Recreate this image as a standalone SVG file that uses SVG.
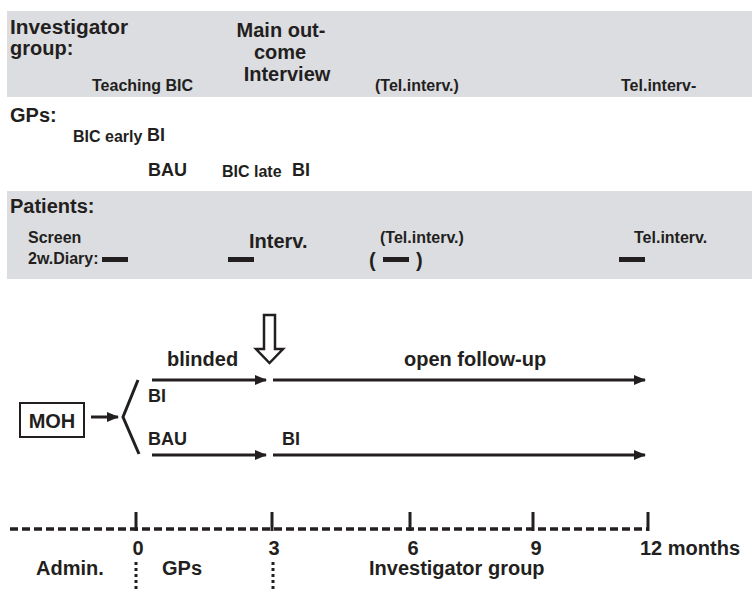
<svg xmlns="http://www.w3.org/2000/svg" width="752" height="592" viewBox="0 0 752 592">
<defs>
<style>
text{font-family:"Liberation Sans",Arial,sans-serif;font-weight:bold;fill:#231f20}
.h{font-size:20px}
.l{font-size:18px}
.s{font-size:16px}
.band{fill:#dcdde0}
.ln{stroke:#231f20;stroke-width:3;fill:none}
.bar{fill:#231f20}
.tick{stroke:#231f20;stroke-width:3}
.dot{stroke:#231f20;stroke-width:3;stroke-dasharray:3 3}
</style>
<marker id="ah" markerWidth="12" markerHeight="10" refX="11" refY="5" orient="auto" markerUnits="userSpaceOnUse">
<path d="M0,0 L12,5 L0,10 z" fill="#231f20"/>
</marker>
</defs>
<rect x="0" y="0" width="752" height="592" fill="#fff"/>

<g id="investigator-band">
<rect class="band" x="7" y="11" width="745" height="86"/>
<text class="h" x="10" y="34" textLength="118" lengthAdjust="spacingAndGlyphs">Investigator</text>
<text class="h" x="10" y="55">group:</text>
<text class="h" x="281" y="37" text-anchor="middle">Main out-</text>
<text class="h" x="280" y="59" text-anchor="middle">come</text>
<text class="h" x="287" y="81" text-anchor="middle">Interview</text>
<text class="s" x="92" y="91">Teaching BIC</text>
<text class="s" x="375" y="91">(Tel.interv.)</text>
<text class="s" x="621" y="91">Tel.interv-</text>
</g>

<g id="gps-section">
<text class="h" x="10" y="122">GPs:</text>
<text class="s" x="73" y="142">BIC early</text>
<text class="l" x="147" y="141">BI</text>
<text class="l" x="148" y="176">BAU</text>
<text class="s" x="222" y="177">BIC late</text>
<text class="l" x="292" y="176">BI</text>
</g>

<g id="patients-band">
<rect class="band" x="7" y="191" width="745" height="88"/>
<text class="h" x="10" y="213">Patients:</text>
<text class="s" x="28" y="243">Screen</text>
<text class="s" x="28" y="264">2w.Diary:</text>
<rect class="bar" x="102" y="257" width="26" height="5"/>
<text class="h" x="249" y="248">Interv.</text>
<rect class="bar" x="228" y="257" width="26" height="5"/>
<text class="s" x="380" y="243">(Tel.interv.)</text>
<text class="h" x="369" y="267">(</text>
<rect class="bar" x="383" y="257" width="26" height="5"/>
<text class="h" x="416" y="267">)</text>
<text class="s" x="634" y="243">Tel.interv.</text>
<rect class="bar" x="619" y="257" width="26" height="5"/>
</g>

<g id="main-outcome-arrow">
<polygon points="264,315 275,315 275,349 283,349 269.5,363 256,349 264,349" fill="#fff" stroke="#231f20" stroke-width="2.5"/>
</g>

<g id="labels">
<text class="h" x="167" y="366">blinded</text>
<text class="h" x="404" y="366">open follow-up</text>
<text class="l" x="148" y="402">BI</text>
<text class="l" x="148" y="445">BAU</text>
<text class="l" x="282" y="445">BI</text>
</g>

<g id="moh">
<rect x="20" y="403" width="64" height="34" fill="#fff" stroke="#231f20" stroke-width="2"/>
<text class="h" x="52" y="428" text-anchor="middle">MOH</text>
</g>

<g id="connectors">
<line class="ln" x1="91" y1="417" x2="118" y2="417" marker-end="url(#ah)"/>
<polyline class="ln" points="138,380 123,417 139,454"/>
<line class="ln" x1="152" y1="380" x2="266" y2="380" marker-end="url(#ah)"/>
<line class="ln" x1="273" y1="380" x2="645" y2="380" marker-end="url(#ah)"/>
<line class="ln" x1="152" y1="455" x2="266" y2="455" marker-end="url(#ah)"/>
<line class="ln" x1="273" y1="455" x2="645" y2="455" marker-end="url(#ah)"/>
</g>

<g id="timeline">
<line x1="10" y1="529" x2="648" y2="529" stroke="#231f20" stroke-width="3.5" stroke-dasharray="8 4"/>
<line class="tick" x1="136" y1="512" x2="136" y2="531"/>
<line class="tick" x1="272" y1="512" x2="272" y2="531"/>
<line class="tick" x1="410" y1="512" x2="410" y2="531"/>
<line class="tick" x1="533" y1="512" x2="533" y2="531"/>
<line class="tick" x1="648" y1="512" x2="648" y2="531"/>
<text class="h" x="138" y="555" text-anchor="middle">0</text>
<text class="h" x="274" y="555" text-anchor="middle">3</text>
<text class="h" x="413" y="555" text-anchor="middle">6</text>
<text class="h" x="536" y="555" text-anchor="middle">9</text>
<text class="h" x="640" y="555">12 months</text>
<text class="h" x="36" y="575">Admin.</text>
<text class="h" x="162" y="575">GPs</text>
<text class="h" x="369" y="575">Investigator group</text>
<line class="dot" x1="136" y1="562" x2="136" y2="592"/>
<line class="dot" x1="273" y1="562" x2="273" y2="592"/>
</g>
</svg>
